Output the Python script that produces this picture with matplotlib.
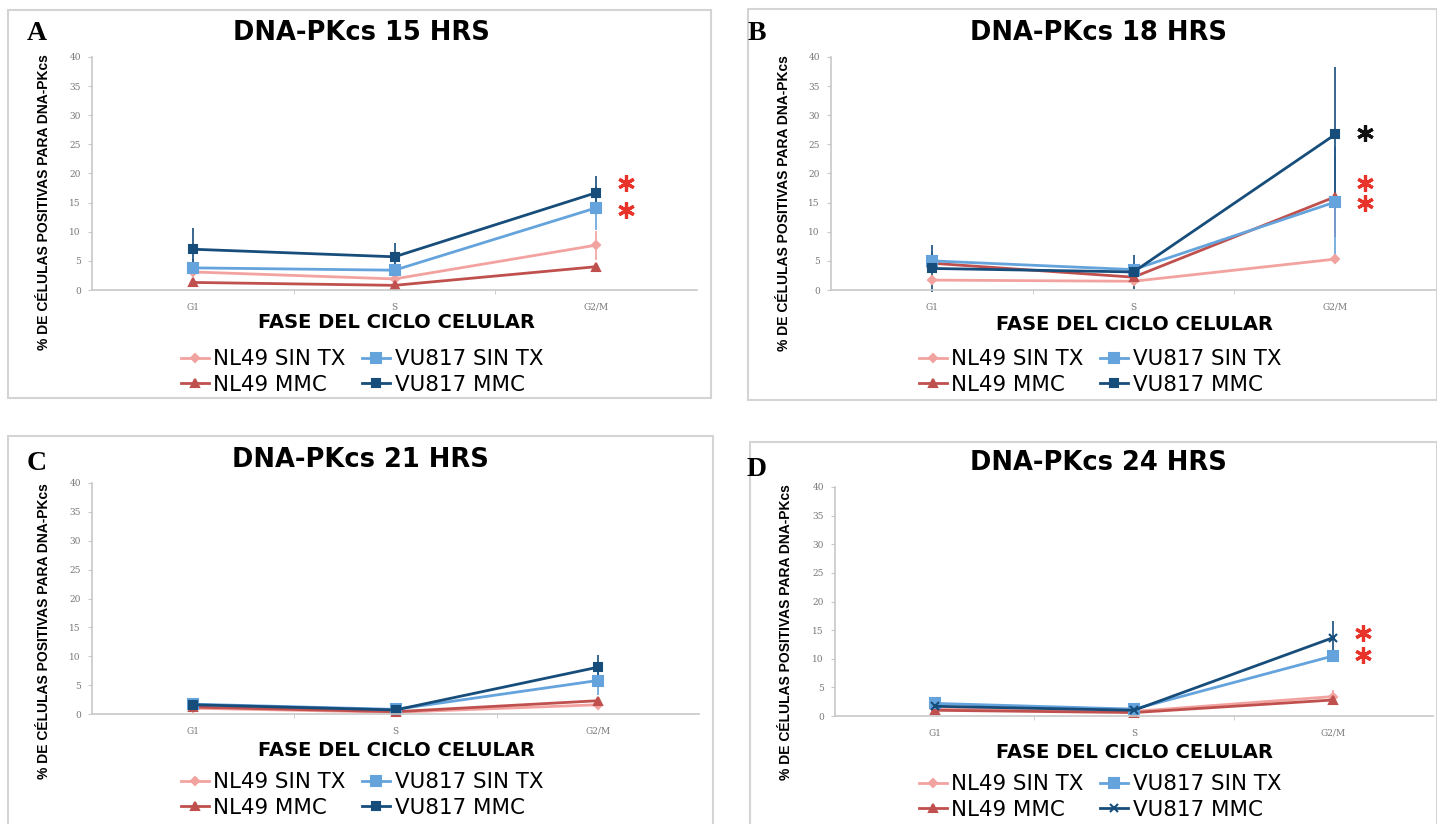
import matplotlib.pyplot as plt
from matplotlib.patches import Rectangle

phases = ["G1", "S", "G2/M"]
labels = ["NL49 SIN TX", "NL49 MMC", "VU817 SIN TX", "VU817 MMC"]
titles = ["DNA-PKcs 15 HRS", "DNA-PKcs 18 HRS", "DNA-PKcs 21 HRS", "DNA-PKcs 24 HRS"]
letters = ["A", "B", "C", "D"]

# mean % per series (rows follow labels), columns follow phases
means_15 = [[3.1, 1.9, 7.7], [1.3, 0.8, 4.0], [3.8, 3.4, 14.1], [7.0, 5.7, 16.7]]
err_15 = [[0.6, 0.5, 2.5], [0.3, 0.2, 0.5], [1.5, 1.2, 3.8], [3.6, 2.4, 2.8]]
means_18 = [[1.7, 1.5, 5.3], [4.6, 2.2, 16.0], [5.0, 3.5, 15.1], [3.7, 3.1, 26.7]]
err_18 = [[0.3, 0.3, 0.5], [1.0, 0.5, 6.9], [1.5, 1.0, 9.5], [4.0, 2.9, 11.6]]
means_21 = [[1.0, 0.3, 1.6], [1.2, 0.4, 2.3], [1.7, 0.8, 5.8], [1.6, 0.7, 8.1]]
err_21 = [[0.2, 0.1, 0.3], [0.3, 0.1, 0.4], [0.3, 0.2, 2.5], [0.3, 0.2, 2.1]]
means_24 = [[1.3, 0.8, 3.4], [1.0, 0.6, 2.8], [2.2, 1.2, 10.5], [1.7, 1.0, 13.7]]
err_24 = [[0.3, 0.2, 1.1], [0.2, 0.1, 0.3], [0.5, 0.3, 1.0], [0.4, 0.2, 2.9]]

# significance asterisks (height, colour)
stars_15 = [18.4, 13.8]
star_cols_15 = ["#E8332A", "#E8332A"]
stars_18 = [27.0, 18.4, 14.9]
star_cols_18 = ["#111111", "#E8332A", "#E8332A"]
stars_21 = []
star_cols_21 = []
stars_24 = [14.5, 10.6]
star_cols_24 = ["#E8332A", "#E8332A"]

all_means = [means_15, means_18, means_21, means_24]
all_errs = [err_15, err_18, err_21, err_24]
all_stars = [stars_15, stars_18, stars_21, stars_24]
all_star_cols = [star_cols_15, star_cols_18, star_cols_21, star_cols_24]

colors = ["#F2A3A0", "#C0504D", "#65A3DC", "#174D7A"]
markers = ["D", "^", "s", "s"]
msizes = [4, 6, 7, 6]

# pixel layout of each panel (x, y from top-left)
panels = [
    dict(ax=(92, 57, 697, 290), box=(8, 10, 711, 398), letter=(37, 33), title=(361, 33),
         xlab=(397, 323), ylab=(44, 202), leg=(362, 372)),
    dict(ax=(831, 57, 1436, 290), box=(748, 9, 1437, 400), letter=(757, 33), title=(1099, 33),
         xlab=(1134, 325), ylab=(784, 203), leg=(1100, 372)),
    dict(ax=(92, 483, 699, 714), box=(8, 436, 713, 830), letter=(37, 463), title=(360, 460),
         xlab=(396, 750), ylab=(44, 631), leg=(362, 795)),
    dict(ax=(835, 487, 1433, 716), box=(750, 442, 1437, 830), letter=(757, 469), title=(1098, 463),
         xlab=(1134, 752), ylab=(786, 632), leg=(1100, 797)),
]

W, H = 1437, 824
fig = plt.figure(figsize=(W / 100, H / 100), dpi=100)


def fx(x):
    return x / W


def fy(y):
    return 1 - y / H


for i, p in enumerate(panels):
    l, t, r, b = p["box"]
    fig.patches.append(Rectangle((fx(l), fy(b)), fx(r - l), (b - t) / H, transform=fig.transFigure,
                                 fill=False, ec="#d4d4d4", lw=1.5))

    l, t, r, b = p["ax"]
    ax = fig.add_axes([fx(l), fy(b), fx(r - l), (b - t) / H])
    x = range(len(phases))
    handles = []
    for k in range(len(labels)):
        mk = "x" if (i == 3 and k == 3) else markers[k]
        c = ax.errorbar(x, all_means[i][k], yerr=all_errs[i][k], color=colors[k], marker=mk,
                        ms=msizes[k], mew=1.5, lw=2, elinewidth=1.2, capsize=0, clip_on=False)
        handles.append(c[0])
    for s, sc in zip(all_stars[i], all_star_cols[i]):
        ax.plot(2.15, s, marker=(6, 2, 0), ms=12, mew=2.3, color=sc, clip_on=False)

    ax.set_xlim(-0.5, 2.5)
    ax.set_ylim(0, 40)
    ax.set_yticks(range(0, 41, 5))
    ax.set_xticks(x)
    ax.set_xticklabels(phases)
    ax.set_xticks([0.5, 1.5], minor=True)
    ax.tick_params(axis="x", which="major", length=0, pad=9, labelsize=6.5, labelcolor="#777777")
    ax.tick_params(axis="x", which="minor", length=3, color="#c8c8c8")
    ax.tick_params(axis="y", length=3, color="#c8c8c8", labelsize=6.5, labelcolor="#777777", pad=5)
    for lab in ax.get_xticklabels() + ax.get_yticklabels():
        lab.set_family("DejaVu Serif")
    for side in ["top", "right"]:
        ax.spines[side].set_visible(False)
    for side in ["left", "bottom"]:
        ax.spines[side].set_color("#c8c8c8")
        ax.spines[side].set_linewidth(1.2)

    fig.text(fx(p["letter"][0]), fy(p["letter"][1]), letters[i], ha="center", va="center",
             fontsize=20, fontweight="bold", family="Liberation Serif")
    fig.text(fx(p["title"][0]), fy(p["title"][1]), titles[i], ha="center", va="center",
             fontsize=18.5, fontweight="bold")
    fig.text(fx(p["xlab"][0]), fy(p["xlab"][1]), "FASE DEL CICLO CELULAR", ha="center",
             va="center", fontsize=14, fontweight="bold")
    fig.text(fx(p["ylab"][0]), fy(p["ylab"][1]), "% DE CÉLULAS POSITIVAS PARA DNA-PKcs",
             ha="center", va="center", rotation=90, fontsize=10, fontweight="bold",
             family="Liberation Sans")
    ax.legend(handles, labels, loc="center", bbox_to_anchor=(fx(p["leg"][0]), fy(p["leg"][1])),
              bbox_transform=fig.transFigure, ncol=2, frameon=False, fontsize=15.4,
              handlelength=1.3, handletextpad=0.2, columnspacing=0.8, labelspacing=0.25,
              borderpad=0, borderaxespad=0)

fig.savefig("out.png", dpi=100)
